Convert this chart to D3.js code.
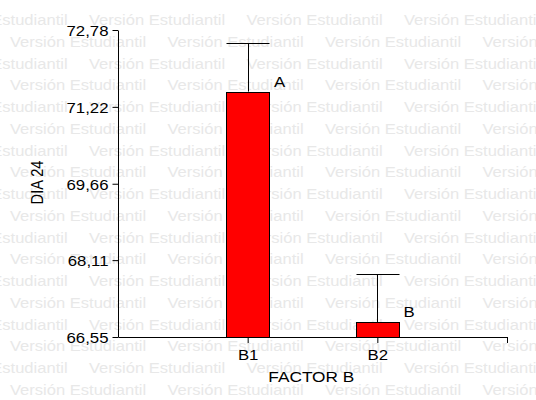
<!DOCTYPE html>
<html>
<head>
<meta charset="utf-8">
<script src="https://cdn.jsdelivr.net/npm/d3@7"></script>
<style>
  body{margin:0;background:#fff;}
  text{font-family:"Liberation Sans",Arial,sans-serif;}
</style>
</head>
<body>
<svg id="chart" width="536" height="400"></svg>
<script>
// data
const categories = ["B1","B2"];
const means = [71.53, 66.85];
const upper = [72.51, 67.83];       // top of error bar
const letters = ["A","B"];
const yTicks = [66.55, 68.11, 69.66, 71.22, 72.78];
const xTitle = "FACTOR B";
const yTitle = "DIA 24";
const watermark = "Versión Estudiantil";

const W = 536, H = 400;
const SX = 1.15;   // text in the original is stretched horizontally
const HALF = 0.168; // half bar width in category units

const SVG = d3.select("#chart");

// watermark background
const wm = SVG.append("g").attr("fill","#e8e8e8");
for(let r = 0; r < 18; r++){
  const yy = 25 + r*21.75;
  const start = r%2===0 ? -68.5 : 10;
  for(let xx = start; xx < W; xx += 157.5){
    wm.append("text")
      .attr("transform",`translate(${xx},${yy}) scale(${SX},1)`)
      .style("font-size","14.4px")
      .text(watermark);
  }
}

const X = d3.scaleLinear().domain([0,3]).range([118,507]);
const Y = d3.scaleLinear().domain([66.55,72.78]).range([337,30]);
const comma = d3.formatLocale({decimal:",",thousands:".",grouping:[3],currency:["",""]}).format(".2f");

// bars
const g = SVG.append("g");
categories.forEach((c,i)=>{
  const k = i+1;
  const x0 = Math.round(X(k-HALF))+0.5, x1 = Math.round(X(k+HALF))+0.5;
  const cx = Math.round(X(k))+0.5;
  g.append("line")
    .attr("x1",cx).attr("x2",cx)
    .attr("y1",Y(means[i])).attr("y2",Math.round(Y(upper[i]))+0.5)
    .attr("stroke","#000");
  g.append("line")
    .attr("x1",x0).attr("x2",x1)
    .attr("y1",Math.round(Y(upper[i]))+0.5).attr("y2",Math.round(Y(upper[i]))+0.5)
    .attr("stroke","#000");
  g.append("rect")
    .attr("x",x0).attr("y",Math.round(Y(means[i]))+0.5)
    .attr("width",x1-x0).attr("height",Y(66.55)-Math.round(Y(means[i])))
    .attr("fill","#ff0000").attr("stroke","#000");
  g.append("text")
    .attr("transform",`translate(${X(k+HALF)+4.5},${Y(means[i])-5}) scale(${SX},1)`)
    .style("font-size","14.6px")
    .text(letters[i]);
});

// axes
const yAxis = SVG.append("g")
  .attr("transform","translate(118,0)")
  .call(d3.axisLeft(Y).tickValues(yTicks).tickFormat(comma).tickSize(5.5).tickSizeOuter(0).tickPadding(4));
yAxis.selectAll("text")
  .attr("x",-9.5/SX)
  .attr("dy","0.36em")
  .attr("transform",`scale(${SX},1)`)
  .style("font-size","14.6px")
  .style("font-family",null);

const xAxis = SVG.append("g")
  .attr("transform","translate(0,337)")
  .call(d3.axisBottom(X).tickValues([1,2,3]).tickFormat(v=>categories[v-1]||"").tickSize(6).tickSizeOuter(0).tickPadding(6.3));
xAxis.selectAll("text")
  .attr("transform",`scale(${SX},1)`)
  .style("font-size","14.6px")
  .style("font-family",null);
SVG.selectAll(".domain, .tick line").attr("stroke","#000");
SVG.selectAll(".tick text").attr("fill","#000");

// titles
SVG.append("text")
  .attr("transform",`translate(311.3,382) scale(${SX},1)`)
  .attr("text-anchor","middle")
  .style("font-size","15px")
  .text(xTitle);
SVG.append("text")
  .attr("transform",`translate(43.3,182.5) scale(${SX},1) rotate(-90)`)
  .attr("text-anchor","middle")
  .style("font-size","14.6px")
  .text(yTitle);
</script>
</body>
</html>
